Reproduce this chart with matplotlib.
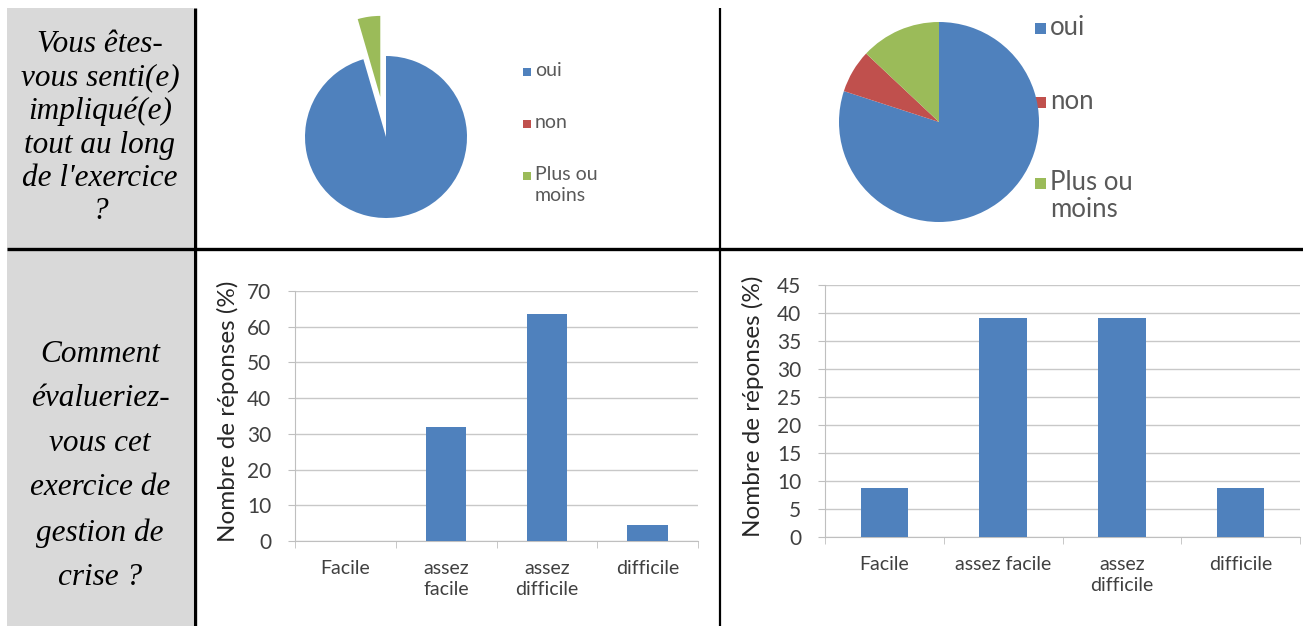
import numpy as np
import matplotlib
matplotlib.use('Agg')
import matplotlib.pyplot as plt
from matplotlib.patches import Rectangle

# ---- data ----
pie_labels = ['oui', 'non', 'Plus ou\nmoins']
pie1_values = [95.5, 0.0, 4.5]
pie2_values = [80.0, 7.0, 13.0]

bar_categories_1 = ['Facile', 'assez\nfacile', 'assez\ndifficile', 'difficile']
bar_values_1 = [0.0, 31.8, 63.6, 4.5]
bar_categories_2 = ['Facile', 'assez facile', 'assez\ndifficile', 'difficile']
bar_values_2 = [8.7, 39.1, 39.1, 8.7]

question_1 = "Vous êtes-\nvous senti(e)\nimpliqué(e)\ntout au long\nde l'exercice\n?"
question_2 = "Comment\névalueriez-\nvous cet\nexercice de\ngestion de\ncrise ?"
ylabel_txt = 'Nombre de réponses (%)'

pie_colors = ['#4F81BD', '#C0504D', '#9BBB59']
bar_color = '#4F81BD'
txt_gray = '#404040'

W, H = 1303, 626
fig = plt.figure(figsize=(W / 100, H / 100), dpi=100)


def px_axes(x0, y0, x1, y1, **kw):
    # pixel box (top-left origin) -> figure axes
    return fig.add_axes([x0 / W, 1 - y1 / H, (x1 - x0) / W, (y1 - y0) / H], **kw)


# ---- table background ----
bg = px_axes(0, 0, W, H)
bg.set_xlim(0, W)
bg.set_ylim(H, 0)
bg.axis('off')
bg.add_patch(Rectangle((7, 8), 186, H - 8, color='#D9D9D9', lw=0, zorder=0))
bg.plot([194.5, 194.5], [8, H], color='black', lw=2.4, solid_capstyle='butt')
bg.plot([720, 720], [8, H], color='black', lw=1.6, solid_capstyle='butt')
bg.plot([7, W], [248.5, 248.5], color='black', lw=2.4, solid_capstyle='butt')

serif = dict(family='Liberation Serif', style='italic', fontsize=22.5, ha='center', va='center', color='black')
bg.text(100, 128, question_1, linespacing=1.2, **serif)
bg.text(100, 466, question_2, linespacing=1.7, **serif)

chart_font = 'Lato'


def pie_legend(x, ys, fs, sq, ls):
    for i, lab in enumerate(pie_labels):
        y = ys[i]
        bg.add_patch(Rectangle((x, y - sq / 2), sq, sq, color=pie_colors[i], lw=0))
        # text top placed so that the first line sits level with the square
        bg.text(x + sq + 4, y - 0.5 * fs * 100 / 72, lab, family=chart_font, fontsize=fs,
                color='#595959', ha='left', va='top', linespacing=ls)


# ---- pie 1 ----
cx, cy, r = 386, 137, 81
ax_p1 = px_axes(cx - 2 * r, cy - 2 * r, cx + 2 * r, cy + 2 * r)
ax_p1.pie(pie1_values, colors=pie_colors, startangle=90, counterclock=False,
          explode=[0, 0, 0.5], radius=1, wedgeprops=dict(lw=0))
ax_p1.set_xlim(-2, 2)
ax_p1.set_ylim(-2, 2)
ax_p1.set_aspect('equal')
ax_p1.axis('off')
pie_legend(523, [72, 124, 176], 14, 8, 1.25)

# ---- pie 2 ----
cx, cy, r = 939, 122, 100
ax_p2 = px_axes(cx - 1.2 * r, cy - 1.2 * r, cx + 1.2 * r, cy + 1.2 * r)
ax_p2.pie(pie2_values, colors=pie_colors, startangle=90, counterclock=False,
          radius=1, wedgeprops=dict(lw=0))
ax_p2.set_xlim(-1.2, 1.2)
ax_p2.set_ylim(-1.2, 1.2)
ax_p2.set_aspect('equal')
ax_p2.axis('off')
pie_legend(1035, [28, 102, 183], 18.5, 11, 1.1)


# ---- bar charts ----
def bar_chart(box, cats, vals, ymax, ystep, lab_x):
    ax = px_axes(*box)
    X = np.arange(len(cats))
    ax.bar(X, vals, width=0.4, color=bar_color, zorder=3)
    ax.set_xlim(-0.5, len(cats) - 0.5)
    ax.set_ylim(0, ymax)
    ax.set_yticks(np.arange(0, ymax + 0.1, ystep))
    ax.set_xticks(X)
    ax.set_xticklabels(cats, family=chart_font, fontsize=14, color=txt_gray, linespacing=1.25)
    ax.set_xticks(np.arange(-0.5, len(cats), 1.0), minor=True)
    for t in ax.get_yticklabels():
        t.set_family(chart_font)
        t.set_fontsize(15)
        t.set_color(txt_gray)
    ax.tick_params(axis='x', which='major', length=0, pad=14)
    ax.tick_params(axis='x', which='minor', length=5, color='#BFBFBF', direction='out')
    ax.tick_params(axis='y', length=5, color='#BFBFBF', pad=12)
    ax.grid(axis='y', color='#C8C8C8', lw=1, zorder=0)
    ax.set_axisbelow(True)
    for s in ['top', 'right']:
        ax.spines[s].set_visible(False)
    ax.spines['left'].set_color('#BFBFBF')
    ax.spines['bottom'].set_color('#BFBFBF')
    ax.set_ylabel(ylabel_txt, family=chart_font, fontsize=17.5, color='#262626')
    ax.yaxis.set_label_coords(lab_x, 0.52)
    return ax


bar_chart((295, 291, 698, 541), bar_categories_1, bar_values_1, 70, 10, -0.139)
bar_chart((825, 285, 1300, 537), bar_categories_2, bar_values_2, 45, 5, -0.128)

plt.savefig('out.png', dpi=100)
